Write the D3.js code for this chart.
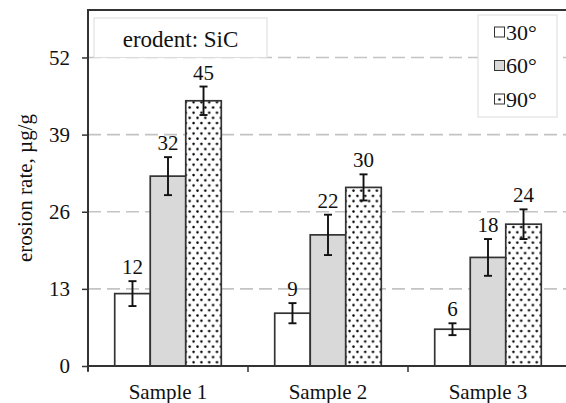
<!DOCTYPE html>
<html><head><meta charset="utf-8">
<script src="https://cdn.jsdelivr.net/npm/d3@7"></script>
<style>
html,body{margin:0;padding:0;background:#fff;}
</style></head>
<body><svg id="c" width="566" height="403"></svg>
<script>
const categories = ["Sample 1", "Sample 2", "Sample 3"];
const seriesNames = ["30°", "60°", "90°"];
const values30 = [12.2, 8.9, 6.2];
const values60 = [32.0, 22.1, 18.3];
const values90 = [44.7, 30.1, 23.9];
const errors30 = [2.1, 1.7, 1.0];
const errors60 = [3.2, 3.4, 3.1];
const errors90 = [2.4, 2.2, 2.5];
const labels30 = ["12", "9", "6"];
const labels60 = ["32", "22", "18"];
const labels90 = ["45", "30", "24"];
const yTicks = [0, 13, 26, 39, 52];
const annotation = "erodent: SiC";
const yTitle = "erosion rate, µg/g";

const FONT = "'Liberation Serif', 'Times New Roman', Tinos, Times, 'DejaVu Serif', serif";
const svg = d3.select("#c").attr("font-family", FONT);
const L = 88, R = 568, T = 10, B = 366;

const defs = svg.append("defs");
const pat = defs.append("pattern").attr("id","dots").attr("patternUnits","userSpaceOnUse")
  .attr("width",7.8).attr("height",10.4).attr("x",1).attr("y",2);
pat.append("rect").attr("width",7.8).attr("height",10.4).attr("fill","#fff");
pat.append("circle").attr("cx",1.5).attr("cy",1.5).attr("r",1.25).attr("fill","#000");
pat.append("circle").attr("cx",5.4).attr("cy",6.7).attr("r",1.25).attr("fill","#000");
const patL = defs.append("pattern").attr("id","dotsL").attr("patternContentUnits","objectBoundingBox")
  .attr("width",1).attr("height",1);
patL.append("rect").attr("width",1).attr("height",1).attr("fill","#fff");
patL.append("circle").attr("cx",0.5).attr("cy",0.55).attr("r",0.13).attr("fill","#111");

const fills = ["#ffffff", "#d9d9d9", "url(#dots)"];
const legendFills = ["#ffffff", "#d9d9d9", "url(#dotsL)"];

const y = d3.scaleLinear().domain([0, 60]).range([B, T]);
const x0 = d3.scaleBand().domain(categories).range([L, R]).paddingInner(0.334).paddingOuter(0.167);
const x1 = d3.scaleBand().domain(seriesNames).range([0, x0.bandwidth()]);
const xCat = d3.scaleBand().domain(categories).range([L, R]);

// gridlines
svg.append("g").selectAll("line").data(yTicks.filter(d => d > 0)).join("line")
  .attr("x1", L).attr("x2", R).attr("y1", d => y(d)).attr("y2", d => y(d))
  .attr("stroke", "#c4c4c4").attr("stroke-width", 1.6).attr("stroke-dasharray", "13,6");

// annotation box
const ag = svg.append("g");
ag.append("rect").attr("x", 94).attr("y", 18).attr("width", 173).attr("height", y(52) - 18)
  .attr("fill", "#fff").attr("stroke", "#dcdcdc").attr("stroke-width", 1);
ag.append("text").attr("x", 180.5).attr("y", 47).attr("text-anchor", "middle")
  .attr("font-family", FONT).attr("font-size", 23).attr("fill", "#111").text(annotation);

// data
const series = [
  {name: seriesNames[0], vals: values30, errs: errors30, labs: labels30, fill: fills[0]},
  {name: seriesNames[1], vals: values60, errs: errors60, labs: labels60, fill: fills[1]},
  {name: seriesNames[2], vals: values90, errs: errors90, labs: labels90, fill: fills[2]},
];
const items = [];
series.forEach(s => categories.forEach((c, i) => items.push({
  cat: c, s: s.name, v: s.vals[i], e: s.errs[i], lab: s.labs[i], fill: s.fill})));

const bars = svg.append("g");
bars.selectAll("rect").data(items).join("rect")
  .attr("x", d => x0(d.cat) + x1(d.s)).attr("width", x1.bandwidth())
  .attr("y", d => y(d.v)).attr("height", d => y(0) - y(d.v))
  .attr("fill", d => d.fill).attr("stroke", "#333").attr("stroke-width", 1.7);

// error bars
const eb = svg.append("g").attr("stroke", "#111").attr("stroke-width", 1.9);
const cx = d => x0(d.cat) + x1(d.s) + x1.bandwidth() / 2;
items.forEach(d => {
  const g = eb.append("g");
  g.append("line").attr("x1", cx(d)).attr("x2", cx(d)).attr("y1", y(d.v - d.e)).attr("y2", y(d.v + d.e));
  g.append("line").attr("x1", cx(d) - 4).attr("x2", cx(d) + 4).attr("y1", y(d.v + d.e)).attr("y2", y(d.v + d.e));
  g.append("line").attr("x1", cx(d) - 4).attr("x2", cx(d) + 4).attr("y1", y(d.v - d.e)).attr("y2", y(d.v - d.e));
});

// value labels
svg.append("g").selectAll("text").data(items).join("text")
  .attr("x", d => cx(d)).attr("y", d => y(d.v + d.e) - 7)
  .attr("text-anchor", "middle").attr("font-family", FONT).attr("font-size", 21).attr("fill", "#111")
  .text(d => d.lab);

// axes
const yAxis = svg.append("g").attr("transform", `translate(${L},0)`)
  .call(d3.axisLeft(y).tickValues(yTicks).tickSize(6).tickPadding(12));
yAxis.attr("font-family", FONT);
yAxis.select(".domain").remove();
yAxis.selectAll("line").attr("stroke", "#333").attr("stroke-width", 1.5);
yAxis.selectAll("text").attr("font-size", 21).attr("fill", "#111").attr("font-family", FONT);

svg.append("line").attr("x1", L).attr("x2", L).attr("y1", T).attr("y2", B + 5)
  .attr("stroke", "#333").attr("stroke-width", 2);
svg.append("line").attr("x1", L - 1).attr("x2", R).attr("y1", T).attr("y2", T)
  .attr("stroke", "#333").attr("stroke-width", 2);
svg.append("line").attr("x1", L).attr("x2", R).attr("y1", B).attr("y2", B)
  .attr("stroke", "#333").attr("stroke-width", 2);

// category boundary ticks
const bounds = categories.map(c => xCat(c)).concat([R]);
svg.append("g").selectAll("line").data(bounds).join("line")
  .attr("x1", d => d).attr("x2", d => d).attr("y1", B).attr("y2", B + 6)
  .attr("stroke", "#333").attr("stroke-width", 1.5);

svg.append("g").selectAll("text").data(categories).join("text")
  .attr("x", d => xCat(d) + xCat.bandwidth() / 2).attr("y", 399)
  .attr("text-anchor", "middle").attr("font-family", FONT).attr("font-size", 21).attr("fill", "#111").text(d => d);

// y title
svg.append("text").attr("transform", `translate(32,${(T + B) / 2}) rotate(-90)`)
  .attr("text-anchor", "middle").attr("font-family", FONT).attr("font-size", 21).attr("fill", "#111").text(yTitle);

// legend
const lg = svg.append("g");
lg.append("rect").attr("x", 478).attr("y", 15).attr("width", 79).attr("height", 102)
  .attr("fill", "#fff").attr("stroke", "#dcdcdc").attr("stroke-width", 1);
const ly = d3.scalePoint().domain(seriesNames).range([32, 99]);
seriesNames.forEach((n, i) => {
  lg.append("rect").attr("x", 494.5).attr("y", ly(n) - 5).attr("width", 10).attr("height", 10)
    .attr("fill", legendFills[i]).attr("stroke", "#333").attr("stroke-width", 1);
  lg.append("text").attr("x", 506).attr("y", ly(n) + 7.5).attr("font-family", FONT).attr("font-size", 22)
    .attr("fill", "#111").text(n);
});
</script></body></html>
